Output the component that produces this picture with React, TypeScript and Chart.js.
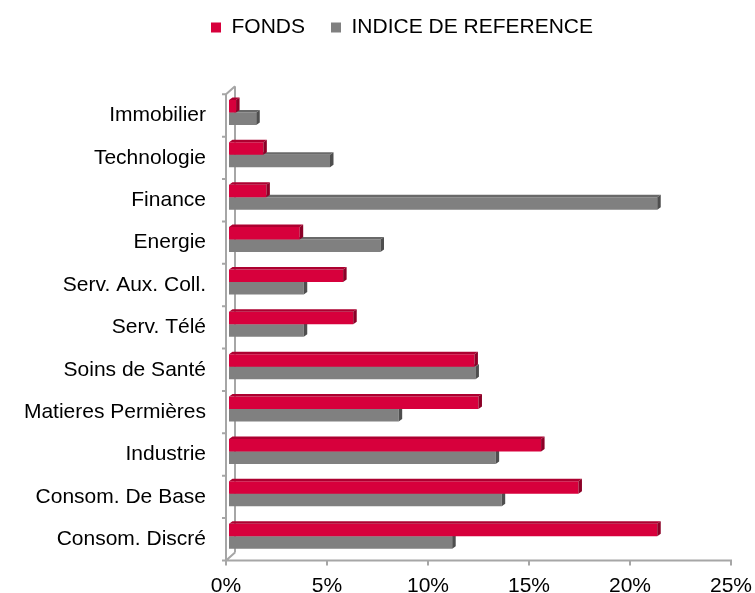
import React, { useEffect, useRef } from 'react';
import { Chart, registerables } from 'chart.js';

Chart.register(...registerables);

// ---- data ----
const categories = [
  'Immobilier',
  'Technologie',
  'Finance',
  'Energie',
  'Serv. Aux. Coll.',
  'Serv. Télé',
  'Soins de Santé',
  'Matieres Permières',
  'Industrie',
  'Consom. De Base',
  'Consom. Discré',
];
const fondsValues = [0.35, 1.7, 1.85, 3.5, 5.65, 6.15, 12.15, 12.35, 15.45, 17.3, 21.2];
const indiceValues = [1.35, 5.0, 21.2, 7.5, 3.7, 3.7, 12.2, 8.4, 13.2, 13.5, 11.05];
const seriesNames = ['FONDS', 'INDICE DE REFERENCE'];
const xMin = 0;
const xMax = 25;
const xStep = 5;

// ---- styles ----
const FONT = "'Liberation Sans', Arial, Helvetica, sans-serif";
const frontColors = ['#d7003c', '#808080'];
const topColors = ['#ad0030', '#696969'];
const sideColors = ['#8c0027', '#4e4e4e'];
const AXIS_COLOR = '#a6a6a6';

// 3D geometry offsets (pixels)
const FRONT_DX = -3;
const FRONT_DY = 3;
const BACK_DX = 6;
const BACK_DY = -5;
const DEPTH_X = 3.5;
const DEPTH_Y = 2.5;

const axes3dPlugin = {
  id: 'axes3d',
  beforeDatasetsDraw(chart: any) {
    const { ctx, chartArea: a, scales } = chart;
    const xs = scales.x;
    const ys = scales.y;
    const fL = a.left + FRONT_DX;
    const fT = a.top + FRONT_DY;
    const fB = a.bottom + FRONT_DY;
    const bL = a.left + BACK_DX;
    const bT = a.top + BACK_DY;
    const bB = a.bottom + BACK_DY;
    ctx.save();
    ctx.strokeStyle = AXIS_COLOR;
    ctx.lineWidth = 2;
    ctx.lineCap = 'butt';
    ctx.beginPath();
    // back wall edge
    ctx.moveTo(bL, bT);
    ctx.lineTo(bL, bB);
    // top and bottom connecting edges
    ctx.moveTo(fL, fT);
    ctx.lineTo(bL, bT);
    ctx.moveTo(fL, fB);
    ctx.lineTo(bL, bB);
    // front vertical axis
    ctx.moveTo(fL, fT);
    ctx.lineTo(fL, fB);
    // front floor (value axis)
    ctx.moveTo(fL - 1, fB);
    ctx.lineTo(a.right + FRONT_DX + 1, fB);
    ctx.stroke();

    // category tick marks
    ctx.beginPath();
    const n = categories.length;
    for (let i = 0; i <= n; i++) {
      const y = ys.getPixelForValue(i - 0.5) + FRONT_DY;
      ctx.moveTo(fL - 4, y);
      ctx.lineTo(fL, y);
    }
    // value tick marks
    xs.ticks.forEach((t: any) => {
      const x = xs.getPixelForValue(t.value) + FRONT_DX;
      ctx.moveTo(x, fB);
      ctx.lineTo(x, fB + 5);
    });
    ctx.stroke();
    ctx.restore();
  },
  afterDatasetDraw(chart: any, args: any) {
    const { ctx } = chart;
    const ci = args.index;
    const meta = args.meta;
    ctx.save();
    meta.data.forEach((el: any) => {
      const { x, y, base, height } = el.getProps(['x', 'y', 'base', 'height'], true);
      const l = Math.min(x, base);
      const r = Math.max(x, base);
      const t = y - height / 2;
      const b = y + height / 2;
      // top face
      ctx.fillStyle = topColors[ci];
      ctx.beginPath();
      ctx.moveTo(l, t);
      ctx.lineTo(l + DEPTH_X, t - DEPTH_Y);
      ctx.lineTo(r + DEPTH_X, t - DEPTH_Y);
      ctx.lineTo(r, t);
      ctx.closePath();
      ctx.fill();
      // side face
      ctx.fillStyle = sideColors[ci];
      ctx.beginPath();
      ctx.moveTo(r, t);
      ctx.lineTo(r + DEPTH_X, t - DEPTH_Y);
      ctx.lineTo(r + DEPTH_X, b - DEPTH_Y);
      ctx.lineTo(r, b);
      ctx.closePath();
      ctx.fill();
    });
    ctx.restore();
  },
  afterLayout(chart: any) {
    const lg = chart.legend;
    if (!lg || !lg.lineWidths) return;
    const p = lg.options.labels.padding;
    const fontSize = 21;
    const startX = 211;
    const textCenterY = 27.5;
    lg.left = 0;
    lg.right = 2 * startX - p + lg.lineWidths[0];
    lg.top = textCenterY - fontSize / 2 - p;
    lg.bottom = lg.top + lg.height;
  },
};

export default function App() {
  const canvasRef = useRef<HTMLCanvasElement | null>(null);

  useEffect(() => {
    document.body.style.margin = '0';
    const canvas = canvasRef.current;
    if (!canvas) return;
    const chart = new Chart(canvas, {
      type: 'bar',
      data: {
        labels: categories,
        datasets: [
          {
            label: seriesNames[0],
            data: fondsValues,
            backgroundColor: frontColors[0],
            borderWidth: 0,
          },
          {
            label: seriesNames[1],
            data: indiceValues,
            backgroundColor: frontColors[1],
            borderWidth: 0,
          },
        ],
      },
      options: {
        indexAxis: 'y',
        animation: false,
        responsive: false,
        events: [],
        layout: { padding: { top: 34.3, right: 21, bottom: 0, left: 0 } },
        datasets: { bar: { categoryPercentage: 0.59, barPercentage: 1 } },
        scales: {
          x: {
            type: 'linear',
            min: xMin,
            max: xMax,
            afterFit: (s: any) => {
              s.height = 35.3;
              s.paddingLeft = 0;
              s.paddingRight = 0;
            },
            grid: { display: false, drawTicks: false },
            border: { display: false },
            ticks: {
              stepSize: xStep,
              callback: (v: any) => `${v}%`,
              font: { family: FONT, size: 21 },
              color: '#000',
              padding: 16,
              labelOffset: FRONT_DX,
              maxRotation: 0,
            },
          },
          y: {
            type: 'category',
            afterFit: (s: any) => {
              s.width = 229;
            },
            grid: { display: false, drawTicks: false },
            border: { display: false },
            ticks: {
              font: { family: FONT, size: 21 },
              color: '#000',
              padding: 23,
              labelOffset: 3,
              autoSkip: false,
            },
          },
        },
        plugins: {
          legend: {
            display: true,
            position: 'top',
            labels: {
              boxWidth: 10,
              boxHeight: 10,
              padding: 26,
              color: '#000',
              font: { family: FONT, size: 21 },
            },
          },
          tooltip: { enabled: false },
        },
      },
      plugins: [axes3dPlugin],
    } as any);
    return () => {
      chart.destroy();
    };
  }, []);

  return (
    <div style={{ width: 755, height: 593, background: '#fff' }}>
      <canvas ref={canvasRef} width={755} height={593} style={{ display: 'block' }} />
    </div>
  );
}
